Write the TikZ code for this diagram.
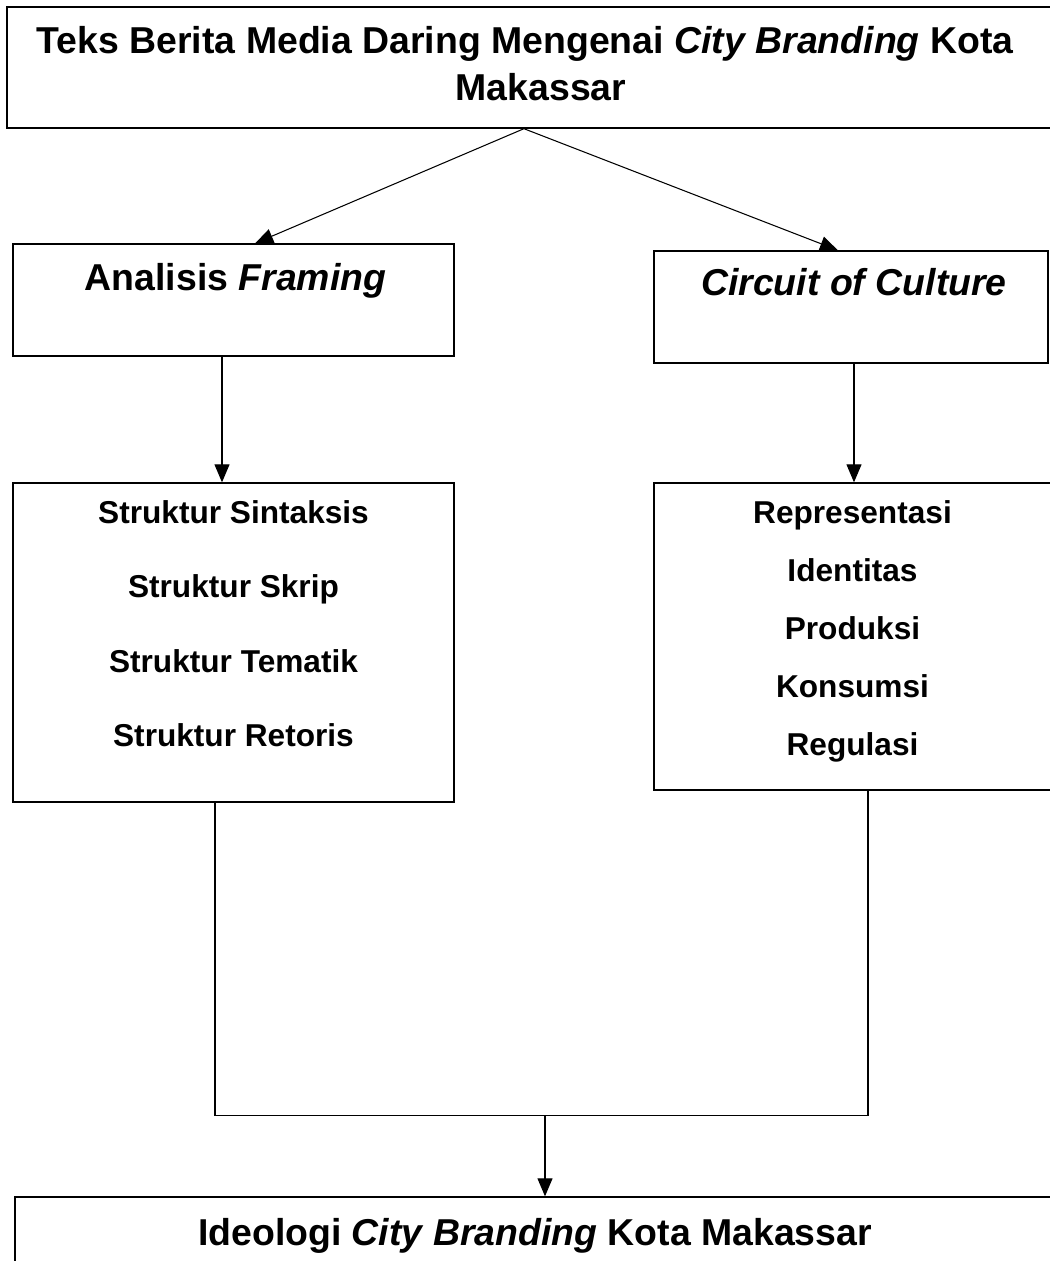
\documentclass[tikz,border=0pt]{standalone}
\usepackage{fontspec}
\setmainfont{Liberation Sans}
\usetikzlibrary{calc,arrows.meta}
\tikzset{
	box/.style={draw, line width=0.8pt, inner sep=0pt},
	conn/.style={line width=0.6pt},
	arr/.style={conn, -{Triangle[length=0.36cm, width=0.3cm]}},
	head/.style={font=\bfseries\fontsize{21.3}{26}\selectfont, inner sep=0pt, anchor=base},
	item/.style={font=\bfseries\fontsize{18}{22}\selectfont, inner sep=0pt, anchor=base}
}

\begin{document}
\begin{tikzpicture}[x=0.02cm, y=-0.02cm]
			%%%%% START %%%%%
			\useasboundingbox (0, 0) rectangle (1049, 1261);
			
			\node[box, minimum width=21.1cm, minimum height=2.42cm] (teks) at (534.5, 67.5) {};
			\node[head] (teks-a) at (525, 53) {Teks Berita Media Daring Mengenai \textit{City Branding} Kota};
			\node[head] (teks-b) at (541, 100) {Makassar};
			
			\node[box, minimum width=8.82cm, minimum height=2.24cm] (framing) at (233.5, 300) {};
			\node[head] (framing-t) at (235.5, 290) {Analisis \textit{Framing}};
			
			\node[box, minimum width=7.88cm, minimum height=2.24cm] (circuit) at (851, 307) {};
			\node[head] (circuit-t) at (854, 295) {\textit{Circuit of Culture}};
			
			\node[box, minimum width=8.82cm, minimum height=6.38cm] (struktur) at (233.5, 642.5) {};
			\foreach \txt [count=\i] in {Struktur Sintaksis, Struktur Skrip, Struktur Tematik, Struktur Retoris}
				\node[item] (struktur-\i) at (233.5, {523 + 74.5*(\i-1)}) {\txt};
			
			\node[box, minimum width=7.96cm, minimum height=6.14cm] (repres) at (853, 636.5) {};
			\foreach \txt [count=\i] in {Representasi, Identitas, Produksi, Konsumsi, Regulasi}
				\node[item] (repres-\i) at (852.5, {523 + 58*(\i-1)}) {\txt};
			
			\node[box, minimum width=20.94cm, minimum height=2.06cm] (ideologi) at (538.5, 1248.5) {};
			\node[head] (ideologi-t) at (535, 1245) {Ideologi \textit{City Branding} Kota Makassar};
			
			\coordinate (split) at ($(teks.south west)!0.49!(teks.south east)$);
			\draw[arr] (split) -- ($(framing.north west)!0.549!(framing.north east)$);
			\draw[arr] (split) -- ($(circuit.north west)!0.467!(circuit.north east)$);
			
			\draw[arr] ($(framing.south)+(-11.5, 0)$) -- ($(struktur.north)+(-11.5, 0)$);
			\draw[arr] ($(circuit.south)+(3, 0)$) -- ($(repres.north)+(1, 0)$);
			
			\coordinate (merge) at ($(ideologi.north)+(6.5, -81)$);
			\draw[conn] ($(struktur.south)+(-18.5, 0)$) |- (merge) -| ($(repres.south)+(15, 0)$);
			\draw[arr] (merge) -- (merge |- ideologi.north);
			%%%%% END %%%%%
\end{tikzpicture}
\end{document}
